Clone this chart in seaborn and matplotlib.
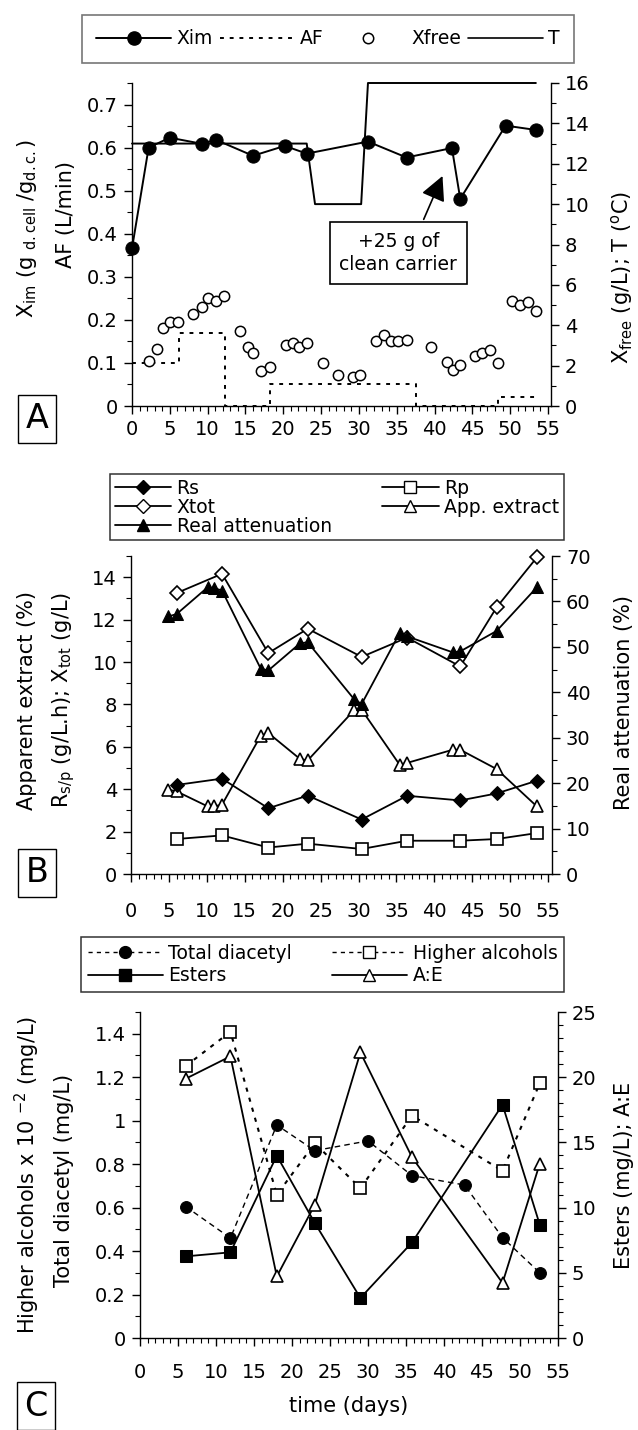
import matplotlib
matplotlib.use("Agg")
import matplotlib.pyplot as plt
import seaborn as sns
from matplotlib.lines import Line2D
from matplotlib.ticker import MultipleLocator, FuncFormatter

# ---------------- panel A ----------------
xim_day = [0, 2.2, 5.0, 9.2, 11.1, 16.0, 20.2, 23.1, 31.2, 36.3, 42.3, 43.4, 49.4, 53.4]
xim_val = [0.366, 0.60, 0.623, 0.609, 0.618, 0.581, 0.604, 0.586, 0.614, 0.577, 0.599, 0.481, 0.651, 0.641]
af_day = [0, 6.2, 12.3, 18.2, 37.5, 48.4, 53.4]
af_val = [0.10, 0.17, 0.0, 0.05, 0.0, 0.02, 0.02]
xfree_day = [2.2, 3.3, 4.1, 5.0, 6.1, 8.1, 9.2, 10.0, 11.1, 12.2, 14.3, 15.4, 16.0, 17.1, 18.2,
             20.3, 21.3, 22.1, 23.2, 25.3, 27.3, 29.2, 30.2, 32.2, 33.3, 34.2, 35.2, 36.3, 39.5,
             41.6, 42.4, 43.4, 45.3, 46.3, 47.3, 48.4, 50.3, 51.3, 52.3, 53.4]
xfree_val = [2.24, 2.8, 3.88, 4.16, 4.16, 4.57, 4.89, 5.35, 5.22, 5.45, 3.7, 2.94, 2.64, 1.75, 1.92,
             3.02, 3.13, 2.9, 3.13, 2.15, 1.55, 1.43, 1.55, 3.23, 3.54, 3.23, 3.23, 3.29, 2.94,
             2.2, 1.79, 2.04, 2.49, 2.64, 2.77, 2.15, 5.19, 5.02, 5.14, 4.73]
t_day = [0, 23.1, 24.2, 30.3, 31.2, 53.4]
t_val = [13, 13, 10, 10, 16, 16]

# ---------------- panel B ----------------
b_day = [6.0, 12.0, 18.1, 23.3, 30.4, 36.4, 43.4, 48.2, 53.5]
rs_val = [4.2, 4.5, 3.1, 3.7, 2.57, 3.69, 3.47, 3.8, 4.4]
rp_val = [1.65, 1.82, 1.25, 1.43, 1.18, 1.57, 1.57, 1.65, 1.93]
xtot_val = [13.25, 14.16, 10.42, 11.57, 10.24, 11.15, 9.79, 12.58, 14.93]
ra_day = [4.9, 6.0, 10.1, 11.0, 12.0, 17.1, 18.1, 22.3, 23.3, 29.4, 30.4, 35.4, 36.4, 42.4, 43.4, 48.2, 53.5]
ra_val = [56.7, 57.2, 63.1, 62.9, 62.4, 45.2, 44.8, 50.8, 51.0, 38.5, 37.4, 53.0, 52.3, 48.8, 49.0, 53.5, 63.1]
ae_val = [3.98, 3.9, 3.19, 3.19, 3.27, 6.52, 6.65, 5.42, 5.36, 7.72, 7.75, 5.16, 5.24, 5.86, 5.86, 4.95, 3.19]

# ---------------- panel C ----------------
dia_day = [6.0, 11.9, 18.0, 23.0, 30.0, 35.8, 42.7, 47.7, 52.6]
dia_val = [0.605, 0.46, 0.98, 0.862, 0.907, 0.747, 0.704, 0.462, 0.30]
c_day = [6.0, 11.9, 18.0, 23.0, 29.0, 35.8, 47.7, 52.6]
ha_val = [1.251, 1.409, 0.659, 0.896, 0.689, 1.023, 0.769, 1.172]
est_val = [6.26, 6.57, 13.98, 8.82, 3.07, 7.33, 17.89, 8.69]
ae_ratio = [19.88, 21.6, 4.72, 10.22, 21.9, 13.85, 4.22, 13.37]

sns.set_theme(style="ticks")
plt.rcParams["font.family"] = ["DejaVu Sans"]
plt.rcParams["mathtext.fontset"] = "dejavusans"
plt.rcParams["mathtext.default"] = "regular"
for k in ["axes.edgecolor", "xtick.color", "ytick.color", "text.color", "axes.labelcolor"]:
    plt.rcParams[k] = "black"

W, H = 638, 1430
fig = plt.figure(figsize=(W / 100, H / 100), dpi=100)
FS_TICK = 14
FS_LEG = 13.5
FS_LAB = 15


def px_axes(l, t, r, b):
    return fig.add_axes([l / W, 1 - b / H, (r - l) / W, (b - t) / H])


def fmt(v, pos):
    return "{:g}".format(round(v, 3))


def style(ax, ax2, xmax, yl, yr, ml, nl, mr, nr, xpad):
    ax.set_xlim(0, xmax)
    ax.set_ylim(*yl)
    ax2.set_ylim(*yr)
    ax.xaxis.set_major_locator(MultipleLocator(5))
    ax.xaxis.set_minor_locator(MultipleLocator(1))
    ax.yaxis.set_major_locator(MultipleLocator(ml))
    ax.yaxis.set_minor_locator(MultipleLocator(nl))
    ax2.yaxis.set_major_locator(MultipleLocator(mr))
    ax2.yaxis.set_minor_locator(MultipleLocator(nr))
    for a in (ax, ax2):
        a.yaxis.set_major_formatter(FuncFormatter(fmt))
        a.tick_params(which="major", direction="out", length=6, width=1, labelsize=FS_TICK, pad=4)
        a.tick_params(which="minor", direction="out", length=3.5, width=0.8)
        a.spines["top"].set_visible(False)
        for s in a.spines.values():
            s.set_linewidth(1)
    ax.tick_params(axis="x", which="major", pad=xpad)
    ax.xaxis.set_major_formatter(FuncFormatter(fmt))
    ax.spines["right"].set_visible(False)
    ax2.spines["left"].set_visible(False)
    ax2.spines["bottom"].set_visible(False)
    ax.set_xlabel("")
    ax.set_ylabel("")
    ax2.set_ylabel("")


def label_box(ch, x, y):
    fig.text(x / W, 1 - y / H, ch, fontsize=24, ha="center", va="center",
             bbox=dict(boxstyle="square,pad=0.22", fc="white", ec="black", lw=1))


def vlabel(x, y, s):
    fig.text(x / W, 1 - y / H, s, rotation=90, ha="center", va="center", fontsize=FS_LAB)


line_kw = dict(color="black", estimator=None, sort=False, clip_on=False, markeredgecolor="black")

# ================= panel A =================
axA = px_axes(132, 83, 551, 406)
axA2 = axA.twinx()
sns.lineplot(x=t_day, y=t_val, ax=axA2, linewidth=1.4, **line_kw)
sns.lineplot(x=af_day, y=af_val, ax=axA, linewidth=1.4, linestyle=(0, (2, 3)),
             drawstyle="steps-post", **line_kw)
sns.lineplot(x=xim_day, y=xim_val, ax=axA, linewidth=1.4, marker="o", markersize=9.5,
             markerfacecolor="black", **line_kw)
sns.scatterplot(x=xfree_day, y=xfree_val, ax=axA2, s=55, facecolor="white",
                edgecolor="black", linewidth=1.1, clip_on=False, zorder=3)
style(axA, axA2, 55.4, (0, 0.75), (0, 16), 0.1, 0.05, 2, 1, 4)
axA.annotate("+25 g of\nclean carrier", xy=(41.2, 0.54), xytext=(35.2, 0.355),
             ha="center", va="center", fontsize=FS_LEG, linespacing=1.3,
             bbox=dict(boxstyle="square,pad=0.5", fc="white", ec="black", lw=1.2),
             arrowprops=dict(arrowstyle="-|>,head_length=0.75,head_width=0.38", color="black",
                             lw=1.2, mutation_scale=20, relpos=(0.67, 1.0)))

hA = [Line2D([], [], color="black", lw=1.4, marker="o", ms=9.5),
      Line2D([], [], color="black", lw=1.4, ls=(0, (2, 3))),
      Line2D([], [], color="none", marker="o", ms=7.5, mfc="white", mec="black", mew=1.1),
      Line2D([], [], color="black", lw=1.2)]
legA = axA.legend(hA, ["Xim", "AF", "Xfree", "T"], loc="center", ncol=4,
                  bbox_to_anchor=(328 / W, 1 - 39 / H), bbox_transform=fig.transFigure,
                  fontsize=FS_LEG, frameon=True, fancybox=False, edgecolor="#555555",
                  handlelength=4.0, handletextpad=0.3, columnspacing=0.35, borderpad=0.75)
legA.get_frame().set_linewidth(1.2)

vlabel(27, 228, r"X$_{im}$ (g $_{d.cell}$ /g$_{d.c.}$)")
vlabel(66, 215, "AF (L/min)")
vlabel(622, 278, r"X$_{free}$ (g/L); T ($^{o}$C)")
label_box("A", 37, 419)

# ================= panel B =================
axB = px_axes(131, 556, 552, 874)
axB2 = axB.twinx()
sns.lineplot(x=b_day, y=rp_val, ax=axB, linewidth=1.3, marker="s", markersize=8,
             markerfacecolor="white", markeredgewidth=1.2, **line_kw)
sns.lineplot(x=ra_day, y=ae_val, ax=axB, linewidth=1.3, marker="^", markersize=9,
             markerfacecolor="white", markeredgewidth=1.2, **line_kw)
sns.lineplot(x=b_day, y=rs_val, ax=axB, linewidth=1.3, marker="D", markersize=7,
             markerfacecolor="black", **line_kw)
sns.lineplot(x=b_day, y=xtot_val, ax=axB, linewidth=1.3, marker="D", markersize=7,
             markerfacecolor="white", markeredgewidth=1.2, **line_kw)
sns.lineplot(x=ra_day, y=ra_val, ax=axB2, linewidth=1.3, marker="^", markersize=9,
             markerfacecolor="black", **line_kw)
style(axB, axB2, 55.5, (0, 15), (0, 70), 2, 1, 10, 5, 14)

hB = [Line2D([], [], color="black", lw=1.3, marker="D", ms=7),
      Line2D([], [], color="black", lw=1.3, marker="D", ms=7, mfc="white"),
      Line2D([], [], color="black", lw=1.3, marker="^", ms=9),
      Line2D([], [], color="black", lw=1.3, marker="s", ms=8, mfc="white"),
      Line2D([], [], color="black", lw=1.3, marker="^", ms=9, mfc="white")]
legB = axB.legend(hB, ["Rs", "Xtot", "Real attenuation", "Rp", "App. extract"],
                  loc="upper left", ncol=2, mode="expand",
                  bbox_to_anchor=(110 / W, 1 - 546 / H, 454 / W, 72 / H),
                  bbox_transform=fig.transFigure, fontsize=FS_LEG, frameon=True, fancybox=False,
                  edgecolor="black", handlelength=3.0, handletextpad=0.3, columnspacing=0.8,
                  labelspacing=0.0, borderpad=0.25, borderaxespad=0)
legB.get_frame().set_linewidth(1.1)

vlabel(27, 700, "Apparent extract (%)")
vlabel(64, 700, r"R$_{s/p}$ (g/L.h); X$_{tot}$ (g/L)")
vlabel(624, 702, "Real attenuation (%)")
label_box("B", 37, 873)

# ================= panel C =================
axC = px_axes(140, 1012, 558, 1338)
axC2 = axC.twinx()
sns.lineplot(x=c_day, y=ha_val, ax=axC, linewidth=1.5, linestyle=(0, (2, 3)), marker="s",
             markersize=8.5, markerfacecolor="white", markeredgewidth=1.2, **line_kw)
sns.lineplot(x=dia_day, y=dia_val, ax=axC, linewidth=1.0, linestyle=(0, (4, 3)), marker="o",
             markersize=8.5, markerfacecolor="black", **line_kw)
sns.lineplot(x=c_day, y=est_val, ax=axC2, linewidth=1.3, marker="s", markersize=8.5,
             markerfacecolor="black", **line_kw)
sns.lineplot(x=c_day, y=ae_ratio, ax=axC2, linewidth=1.3, marker="^", markersize=9,
             markerfacecolor="white", markeredgewidth=1.2, **line_kw)
style(axC, axC2, 55, (0, 1.5), (0, 25), 0.2, 0.1, 5, 1, 12)

hC = [Line2D([], [], color="black", lw=1.0, ls=(0, (3, 3)), marker="o", ms=8.5),
      Line2D([], [], color="black", lw=1.3, marker="s", ms=8.5),
      Line2D([], [], color="black", lw=1.0, ls=(0, (3, 3)), marker="s", ms=8, mfc="white"),
      Line2D([], [], color="black", lw=1.3, marker="^", ms=9, mfc="white")]
legC = axC.legend(hC, ["Total diacetyl", "Esters", "Higher alcohols", "A:E"],
                  loc="upper left", ncol=2, mode="expand",
                  bbox_to_anchor=(81 / W, 1 - 1003 / H, 483 / W, 66 / H),
                  bbox_transform=fig.transFigure, fontsize=FS_LEG, frameon=True, fancybox=False,
                  edgecolor="black", handlelength=4.0, handletextpad=0.3, columnspacing=0.8,
                  labelspacing=0.2, borderpad=0.35, borderaxespad=0)
legC.get_frame().set_linewidth(1.1)

axC.set_xlabel("time (days)", fontsize=FS_LAB, labelpad=10)
vlabel(27, 1175, r"Higher alcohols x 10 $^{-2}$ (mg/L)")
vlabel(64, 1180, "Total diacetyl (mg/L)")
vlabel(624, 1175, "Esters (mg/L); A:E")
label_box("C", 36, 1406)

fig.savefig("out.png", dpi=100)
